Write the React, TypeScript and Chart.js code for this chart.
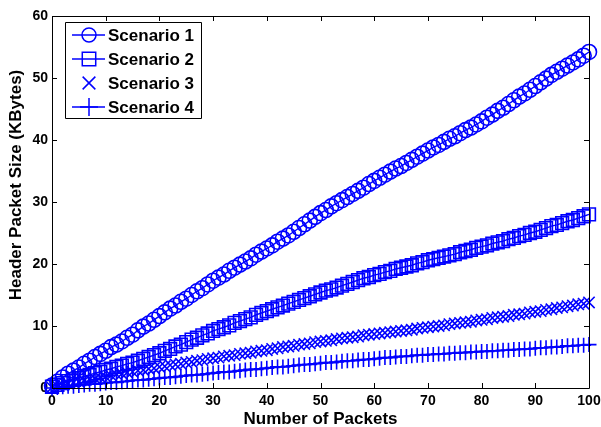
import React, { useEffect, useRef } from "react";
import { Chart, registerables } from "chart.js";

Chart.register(...registerables);

const packets = [
  0, 1, 2, 3, 4, 5, 6, 7, 8, 9, 10, 11, 12, 13, 14, 15, 16, 17, 18, 19, 20,
  21, 22, 23, 24, 25, 26, 27, 28, 29, 30, 31, 32, 33, 34, 35, 36, 37, 38, 39, 40,
  41, 42, 43, 44, 45, 46, 47, 48, 49, 50, 51, 52, 53, 54, 55, 56, 57, 58, 59, 60,
  61, 62, 63, 64, 65, 66, 67, 68, 69, 70, 71, 72, 73, 74, 75, 76, 77, 78, 79, 80,
  81, 82, 83, 84, 85, 86, 87, 88, 89, 90, 91, 92, 93, 94, 95, 96, 97, 98, 99, 100,
];

const scenario1 = [
  0.4,
  1.0, 1.7, 2.3, 2.8, 3.3, 3.9, 4.4, 5.0, 5.5, 6.0,
  6.6, 7.0, 7.5, 8.1, 8.6, 9.3, 9.9, 10.4, 11.0, 11.6,
  12.2, 12.8, 13.3, 13.9, 14.4, 15.0, 15.6, 16.1, 16.7, 17.3,
  17.8, 18.3, 18.9, 19.4, 19.9, 20.4, 20.9, 21.5, 22.0, 22.5,
  23.0, 23.6, 24.1, 24.6, 25.2, 25.8, 26.4, 27.0, 27.6, 28.2,
  28.7, 29.3, 29.8, 30.3, 30.8, 31.3, 31.8, 32.3, 32.9, 33.4,
  33.9, 34.4, 34.9, 35.4, 35.8, 36.3, 36.8, 37.3, 37.8, 38.3,
  38.8, 39.2, 39.7, 40.2, 40.6, 41.1, 41.6, 42.0, 42.5, 43.0,
  43.6, 44.1, 44.7, 45.2, 45.8, 46.4, 47.0, 47.5, 48.1, 48.7,
  49.3, 49.9, 50.5, 51.0, 51.5, 52.0, 52.5, 53.0, 53.6, 54.2,
];

const scenario2 = [
  0.2,
  0.5, 0.8, 1.1, 1.4, 1.6, 1.9, 2.1, 2.4, 2.6, 2.9,
  3.1, 3.4, 3.6, 3.9, 4.1, 4.4, 4.7, 5.0, 5.3, 5.6,
  6.0, 6.3, 6.7, 7.0, 7.4, 7.8, 8.1, 8.5, 8.8, 9.2,
  9.5, 9.8, 10.1, 10.5, 10.8, 11.1, 11.4, 11.8, 12.1, 12.4,
  12.7, 13.0, 13.3, 13.6, 13.9, 14.2, 14.5, 14.8, 15.1, 15.4,
  15.7, 15.9, 16.2, 16.5, 16.8, 17.1, 17.4, 17.7, 17.9, 18.2,
  18.4, 18.7, 18.9, 19.2, 19.4, 19.6, 19.8, 20.1, 20.3, 20.6,
  20.8, 21.0, 21.2, 21.4, 21.6, 21.9, 22.1, 22.3, 22.6, 22.8,
  23.0, 23.3, 23.5, 23.7, 24.0, 24.2, 24.5, 24.7, 25.0, 25.2,
  25.5, 25.8, 26.1, 26.3, 26.6, 26.9, 27.1, 27.4, 27.7, 28.0,
];

const scenario3 = [
  0.1,
  0.3, 0.5, 0.7, 0.9, 1.0, 1.2, 1.4, 1.5, 1.7, 1.8,
  2.0, 2.2, 2.3, 2.5, 2.6, 2.8, 2.9, 3.1, 3.2, 3.4,
  3.5, 3.7, 3.8, 3.9, 4.1, 4.2, 4.4, 4.5, 4.7, 4.8,
  4.9, 5.1, 5.2, 5.3, 5.5, 5.6, 5.7, 5.9, 6.0, 6.1,
  6.3, 6.4, 6.6, 6.7, 6.8, 7.0, 7.1, 7.2, 7.4, 7.5,
  7.6, 7.7, 7.9, 8.0, 8.1, 8.2, 8.3, 8.5, 8.6, 8.7,
  8.8, 8.9, 9.0, 9.1, 9.2, 9.3, 9.4, 9.6, 9.7, 9.8,
  9.9, 10.0, 10.1, 10.3, 10.4, 10.5, 10.6, 10.7, 10.9, 11.0,
  11.1, 11.3, 11.4, 11.5, 11.6, 11.8, 11.9, 12.0, 12.2, 12.3,
  12.4, 12.6, 12.7, 12.9, 13.0, 13.2, 13.3, 13.5, 13.6, 13.8,
];

const scenario4 = [
  0.0,
  0.1, 0.2, 0.3, 0.3, 0.4, 0.5, 0.6, 0.6, 0.7, 0.8,
  0.9, 0.9, 1.0, 1.1, 1.2, 1.3, 1.3, 1.4, 1.5, 1.6,
  1.7, 1.7, 1.8, 1.9, 2.0, 2.1, 2.1, 2.2, 2.3, 2.4,
  2.5, 2.6, 2.6, 2.7, 2.8, 2.9, 3.0, 3.0, 3.1, 3.2,
  3.3, 3.4, 3.4, 3.5, 3.6, 3.7, 3.8, 3.8, 3.9, 4.0,
  4.1, 4.1, 4.2, 4.3, 4.4, 4.4, 4.5, 4.6, 4.6, 4.7,
  4.8, 4.9, 4.9, 5.0, 5.1, 5.1, 5.2, 5.3, 5.3, 5.4,
  5.4, 5.5, 5.5, 5.6, 5.6, 5.7, 5.7, 5.8, 5.8, 5.9,
  5.9, 6.0, 6.0, 6.1, 6.1, 6.2, 6.2, 6.3, 6.3, 6.4,
  6.5, 6.5, 6.6, 6.6, 6.7, 6.8, 6.8, 6.9, 6.9, 7.0,
];

const seriesNames = ["Scenario 1", "Scenario 2", "Scenario 3", "Scenario 4"];
const xTitle = "Number of Packets";
const yTitle = "Header Packet Size (KBytes)";
const xTicks = [0, 10, 20, 30, 40, 50, 60, 70, 80, 90, 100];
const yTicks = [0, 10, 20, 30, 40, 50, 60];

const FONT = '"Liberation Sans", Arial, Helvetica, sans-serif';
const BLUE = "#0000ff";

const styles = [
  { pointStyle: "circle", radius: 7.5, showLine: true },
  { pointStyle: "rect", radius: 9, showLine: true },
  { pointStyle: "crossRot", radius: 8, showLine: false },
  { pointStyle: "cross", radius: 7.5, showLine: true },
];

function drawMarker(ctx: CanvasRenderingContext2D, style: string, x: number, y: number, r: number) {
  ctx.beginPath();
  if (style === "circle") {
    ctx.arc(x, y, r, 0, Math.PI * 2);
  } else if (style === "rect") {
    const s = Math.SQRT1_2 * r;
    ctx.rect(x - s, y - s, 2 * s, 2 * s);
  } else if (style === "crossRot") {
    const o = Math.SQRT1_2 * r;
    ctx.moveTo(x - o, y - o);
    ctx.lineTo(x + o, y + o);
    ctx.moveTo(x - o, y + o);
    ctx.lineTo(x + o, y - o);
  } else {
    ctx.moveTo(x, y - r);
    ctx.lineTo(x, y + r);
    ctx.moveTo(x - r, y);
    ctx.lineTo(x + r, y);
  }
  ctx.stroke();
}

const framePlugin = {
  id: "matlabFrame",
  afterDraw(chart: any) {
    const { ctx, chartArea } = chart;
    const { left, right, top, bottom } = chartArea;
    const xs = chart.scales.x;
    const ys = chart.scales.y;
    ctx.save();
    ctx.strokeStyle = "#000";
    ctx.lineWidth = 1;
    ctx.beginPath();
    ctx.rect(left + 0.5, top + 0.5, right - left, bottom - top);
    ctx.stroke();
    const tl = 5;
    ctx.beginPath();
    xTicks.forEach((v) => {
      const px = Math.round(xs.getPixelForValue(v)) + 0.5;
      ctx.moveTo(px, bottom);
      ctx.lineTo(px, bottom - tl);
      ctx.moveTo(px, top);
      ctx.lineTo(px, top + tl);
    });
    yTicks.forEach((v) => {
      const py = Math.round(ys.getPixelForValue(v)) + 0.5;
      ctx.moveTo(left, py);
      ctx.lineTo(left + tl, py);
      ctx.moveTo(right, py);
      ctx.lineTo(right - tl, py);
    });
    ctx.stroke();

    // y axis title
    ctx.save();
    ctx.translate(16, (top + bottom) / 2 - 17);
    ctx.rotate(-Math.PI / 2);
    ctx.fillStyle = "#000";
    ctx.font = `bold 17px ${FONT}`;
    ctx.textAlign = "center";
    ctx.textBaseline = "middle";
    ctx.fillText(yTitle, 0, 0);
    ctx.restore();

    // legend
    const bx = left + 13;
    const by = top + 6;
    const bw = 136;
    const bh = 96;
    ctx.fillStyle = "#fff";
    ctx.fillRect(bx, by, bw, bh);
    ctx.strokeStyle = "#000";
    ctx.lineWidth = 1;
    ctx.beginPath();
    ctx.rect(bx + 0.5, by + 0.5, bw, bh);
    ctx.stroke();
    const rows = [13, 37, 61, 85];
    ctx.font = `bold 17px ${FONT}`;
    ctx.textBaseline = "middle";
    ctx.textAlign = "left";
    seriesNames.forEach((name, i) => {
      const cy = by + rows[i];
      const st = styles[i];
      ctx.strokeStyle = BLUE;
      ctx.lineWidth = 1.5;
      if (st.showLine) {
        ctx.beginPath();
        ctx.moveTo(bx + 7, cy);
        ctx.lineTo(bx + 40, cy);
        ctx.stroke();
      }
      drawMarker(ctx, st.pointStyle, bx + 24, cy, st.pointStyle === "rect" ? 9.5 : st.pointStyle === "circle" ? 7 : 9);
      ctx.fillStyle = "#000";
      ctx.fillText(name, bx + 43, cy + 1);
    });
    ctx.restore();
  },
};

export default function App() {
  const ref = useRef<HTMLCanvasElement>(null);
  useEffect(() => {
    if (!ref.current) return;
    const all = [scenario1, scenario2, scenario3, scenario4];
    const chart = new Chart(ref.current, {
      type: "line",
      data: {
        datasets: all.map((vals, i) => ({
          label: seriesNames[i],
          data: packets.map((x, j) => ({ x, y: vals[j] })),
          borderColor: BLUE,
          backgroundColor: "transparent",
          borderWidth: 1.4,
          showLine: styles[i].showLine,
          pointStyle: styles[i].pointStyle as any,
          pointRadius: styles[i].radius,
          pointBorderColor: BLUE,
          pointBackgroundColor: "transparent",
          pointBorderWidth: 1.6,
          fill: false,
          tension: 0,
          clip: false as any,
        })),
      },
      options: {
        responsive: false,
        animation: false,
        layout: { padding: { left: 0, top: 16, right: 12, bottom: 0 } },
        plugins: {
          legend: { display: false },
          tooltip: { enabled: false },
        },
        scales: {
          x: {
            type: "linear",
            min: 0,
            max: 100,
            afterBuildTicks: (s: any) => {
              s.ticks = xTicks.map((v) => ({ value: v }));
            },
            ticks: {
              color: "#000",
              font: { family: FONT, size: 14, weight: "bold" },
              padding: 5,
              maxRotation: 0,
              autoSkip: false,
            },
            grid: { display: false, drawTicks: false },
            border: { display: false },
            title: {
              display: true,
              text: xTitle,
              color: "#000",
              font: { family: FONT, size: 17, weight: "bold", lineHeight: 0.95 },
              padding: { top: 0, bottom: 0 },
            },
            afterFit: (s: any) => {
              s.height = 39;
              s.paddingLeft = 0;
              s.paddingRight = 0;
            },
          },
          y: {
            type: "linear",
            min: 0,
            max: 60,
            afterBuildTicks: (s: any) => {
              s.ticks = yTicks.map((v) => ({ value: v }));
            },
            ticks: {
              color: "#000",
              font: { family: FONT, size: 14, weight: "bold" },
              padding: 4,
              autoSkip: false,
            },
            grid: { display: false, drawTicks: false },
            border: { display: false },
            title: { display: false },
            afterFit: (s: any) => {
              s.width = 52;
              s.paddingTop = 0;
              s.paddingBottom = 0;
            },
          },
        },
      },
      plugins: [framePlugin],
    });
    return () => chart.destroy();
  }, []);
  return (
    <div style={{ position: "fixed", left: 0, top: 0, width: 601, height: 427, background: "#fff" }}>
      <canvas ref={ref} width={601} height={427} style={{ display: "block", width: 601, height: 427 }} />
    </div>
  );
}
